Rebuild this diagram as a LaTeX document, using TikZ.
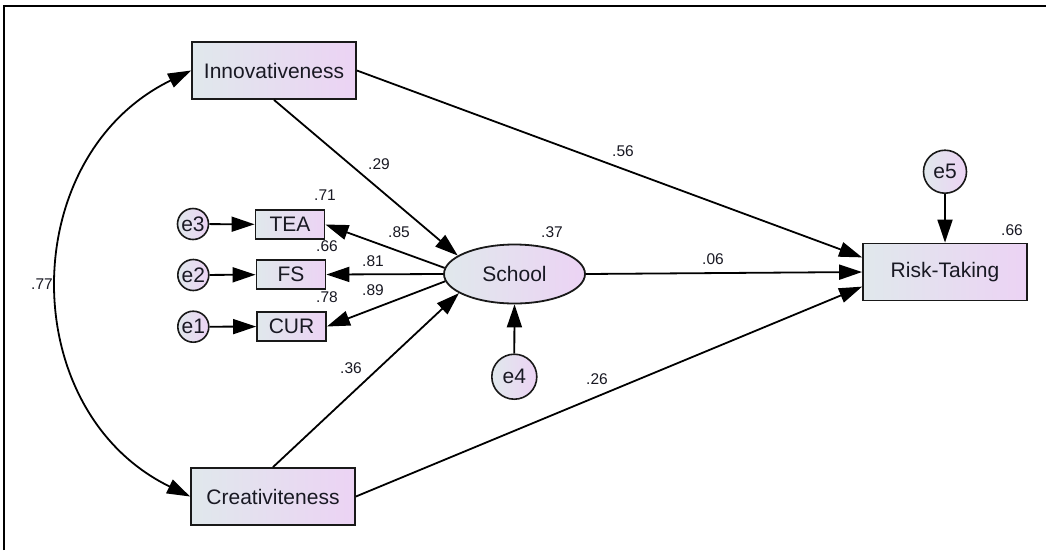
\documentclass[tikz,border=0pt]{standalone}
\usepackage{fontspec}
\setmainfont{Liberation Sans}
\usetikzlibrary{arrows.meta,shapes.geometric}
\definecolor{lc}{RGB}{224,232,236}
\definecolor{rc}{RGB}{236,211,244}
\definecolor{txt}{RGB}{25,25,35}
\begin{document}
\begin{tikzpicture}[x=1pt,y=1pt,
  shade/.style={left color=lc, right color=rc},
  gbox/.style={draw=black!90, line width=1.8pt, shade, minimum width=164pt, minimum height=57pt, inner sep=0pt, font=\fontsize{21}{25}\selectfont, text=txt},
  sbox/.style={gbox, minimum width=69pt, minimum height=29pt},
  err/.style={circle, draw=black!90, line width=1.6pt, shade, inner sep=0pt, font=\fontsize{21}{25}\selectfont, text=txt, minimum size=31pt},
  lab/.style={font=\fontsize{15.5}{18}\selectfont, text=txt, inner sep=0pt},
  arr/.style={line width=1.8pt, -{Triangle[length=23pt,width=15pt]}},
  tip/.tip={Triangle[length=23pt,width=15pt]}
]
\useasboundingbox (0,0) rectangle (1046,-550);
\fill[white] (0,0) rectangle (1046,-550);
% frame
\draw[line width=1.6pt] (3.7,-550) -- (3.7,-6);
\draw[line width=2.4pt] (3,-6) -- (1046,-6);
% nodes
\node[gbox] (inn) at (274,-70.5) {Innovativeness};
\node[gbox] (cre) at (273,-496.5) {Creativiteness};
\node[gbox] (risk) at (945,-272) {Risk-Taking};
\node[gbox, ellipse, minimum width=141pt, minimum height=59pt] (school) at (514.5,-274) {School};
\node[sbox] (tea) at (290,-224.5) {TEA};
\node[sbox] (fs) at (291,-274.5) {FS};
\node[sbox] (cur) at (291.5,-326.5) {CUR};
\node[err] (e3) at (193,-224) {e3};
\node[err] (e2) at (193.3,-275) {e2};
\node[err] (e1) at (193.3,-326.7) {e1};
\node[err, minimum size=45pt] (e4) at (514.3,-376.7) {e4};
\node[err, minimum size=43pt] (e5) at (945,-171.7) {e5};
% connectors
\draw[arr] (e3) -- (tea);
\draw[arr] (e2) -- (fs);
\draw[arr] (e1) -- (cur);
\draw[arr] (school.175) -- (tea.east);
\draw[arr] (school.180) -- (fs.east);
\draw[arr] (school.186) -- (cur.east);
\draw[arr] (inn.south) -- (school.162);
\draw[arr] (cre.north) -- (school.199);
\draw[arr] (inn.east) -- (risk.170);
\draw[arr] (school.east) -- (risk.west);
\draw[arr] (cre.east) -- (risk.190);
\draw[arr] (e4.north) -- (school.south);
\draw[arr] (e5.south) -- (risk.north);
\draw[line width=1.8pt, tip-tip] (inn.west) to[out=206,in=154,looseness=1.17] (cre.west);
% labels
\node[lab] (l71) at (325,-195) {.71};
\node[lab] (l66a) at (327,-246) {.66};
\node[lab] (l78) at (327,-297) {.78};
\node[lab] (l85) at (399,-232) {.85};
\node[lab] (l81) at (373,-261) {.81};
\node[lab] (l89) at (373,-290) {.89};
\node[lab] (l29) at (379,-164) {.29};
\node[lab] (l56) at (623,-151) {.56};
\node[lab] (l06) at (713,-259) {.06};
\node[lab] (l36) at (351,-368) {.36};
\node[lab] (l26) at (597,-379) {.26};
\node[lab] (l77) at (42,-284) {.77};
\node[lab] (l37) at (552,-232) {.37};
\node[lab] (l66b) at (1012,-230) {.66};
\end{tikzpicture}
\end{document}
